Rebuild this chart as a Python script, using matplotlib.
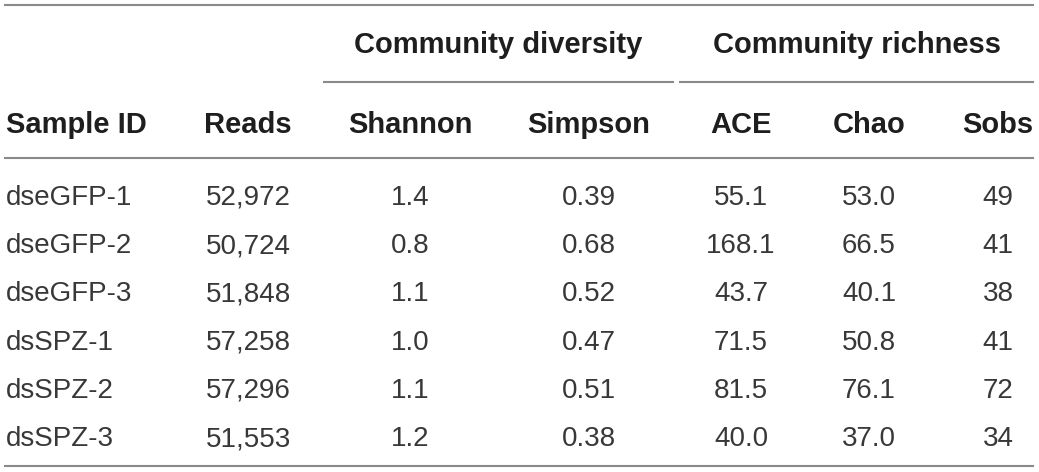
import matplotlib
matplotlib.use("Agg")
import matplotlib.pyplot as plt

sample_ids = ["dseGFP-1", "dseGFP-2", "dseGFP-3", "dsSPZ-1", "dsSPZ-2", "dsSPZ-3"]
reads = [52972, 50724, 51848, 57258, 57296, 51553]
shannon = [1.4, 0.8, 1.1, 1.0, 1.1, 1.2]
simpson = [0.39, 0.68, 0.52, 0.47, 0.51, 0.38]
ace = [55.1, 168.1, 43.7, 71.5, 81.5, 40.0]
chao = [53.0, 66.5, 40.1, 50.8, 76.1, 37.0]
sobs = [49, 41, 38, 41, 72, 34]

col_headers = ["Sample ID", "Reads", "Shannon", "Simpson", "ACE", "Chao", "Sobs"]
group_headers = ["Community diversity", "Community richness"]

W, H = 1039, 472
fig = plt.figure(figsize=(W / 100, H / 100), dpi=100)
ax = fig.add_axes([0, 0, 1, 1])
ax.set_xlim(0, W)
ax.set_ylim(H, 0)
ax.axis("off")

line_c = "#8a8a8a"
hdr_font = dict(family="Liberation Sans", weight="bold", size=21, color="#1e1e1e")
val_font = dict(family="Liberation Sans", weight="normal", size=20, color="#383838")

# column centres (Sample ID is left aligned)
col_x = [6, 248, 410, 589, 741, 869, 998]

# rules
ax.plot([5, 1033], [5, 5], color=line_c, lw=1.5)
ax.plot([324, 673], [82, 82], color=line_c, lw=1.5)
ax.plot([680, 1033], [82, 82], color=line_c, lw=1.5)
ax.plot([5, 1033], [158, 158], color=line_c, lw=1.5)
ax.plot([5, 1033], [466, 466], color=line_c, lw=1.5)

# group headers
ax.text(498, 53, group_headers[0], ha="center", va="baseline", **hdr_font)
ax.text(857, 53, group_headers[1], ha="center", va="baseline", **hdr_font)

# column headers
for i, h in enumerate(col_headers):
    ha = "left" if i == 0 else "center"
    ax.text(col_x[i], 133, h, ha=ha, va="baseline", **hdr_font)

# body
row_y0, row_dy = 205, 48.2
for r in range(len(sample_ids)):
    y = row_y0 + r * row_dy
    cells = [sample_ids[r], f"{reads[r]:,}", f"{shannon[r]:.1f}", f"{simpson[r]:.2f}",
             f"{ace[r]:.1f}", f"{chao[r]:.1f}", f"{sobs[r]:d}"]
    for i, c in enumerate(cells):
        ha = "left" if i == 0 else "center"
        ax.text(col_x[i], y, c, ha=ha, va="baseline", **val_font)

fig.savefig("out.png", dpi=100, facecolor="white")
